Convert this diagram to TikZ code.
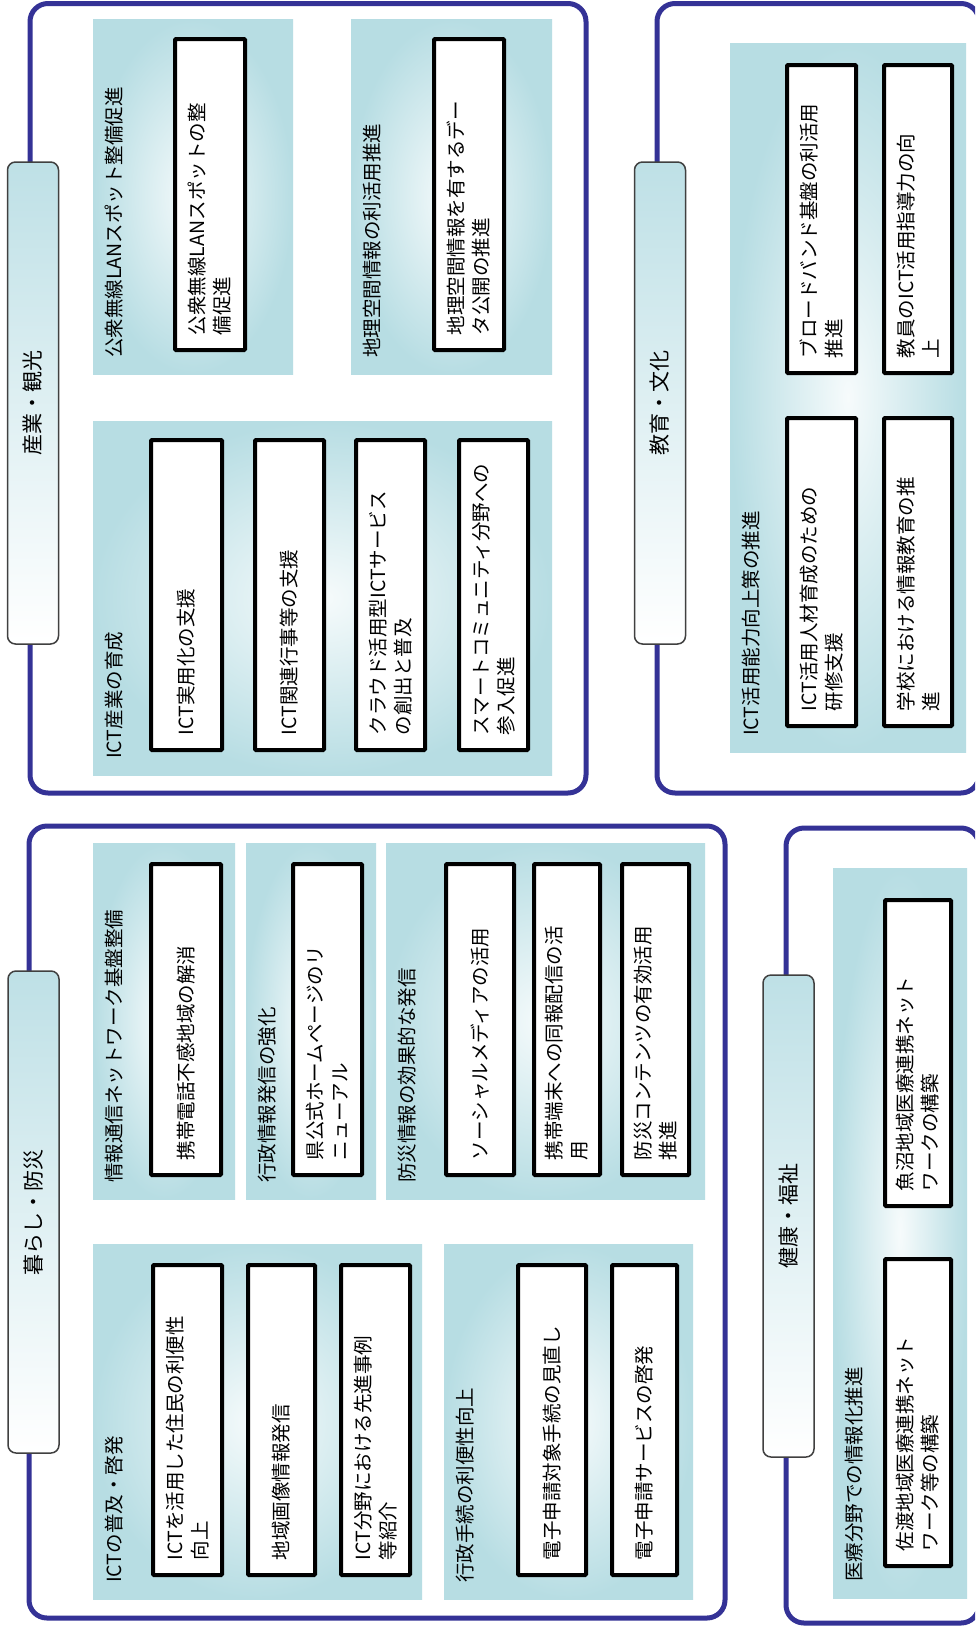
\documentclass[tikz,border=0pt]{standalone}
\usepackage{fontspec}
\setmainfont{Noto Sans CJK JP}
\definecolor{framec}{RGB}{52,50,150}
\definecolor{panelc}{RGB}{183,221,227}
\definecolor{tabc}{RGB}{190,224,230}
\newcommand\myfont{\fontsize{19.5}{25}\selectfont}
\newcommand\tabfont{\fontsize{21}{25}\selectfont}
\tikzset{
 frame/.style={draw=framec, line width=5pt, rounded corners=18pt},
 panel/.style={inner color=white!88!panelc, outer color=panelc},
 itembox/.style={draw=black, line width=4pt, fill=white, rotate=90, inner xsep=15pt, inner ysep=2pt, align=left, font=\myfont, rounded corners=1pt},
 plabel/.style={rotate=90, anchor=west, inner sep=0pt, font=\myfont},
 tabbox/.style={draw=black!75, line width=1.5pt, rounded corners=8pt, rotate=90, top color=tabc, bottom color=white, font=\tabfont, inner sep=0pt},
}
\newcommand\mkbox[6]{%
 \pgfmathsetmacro\bL{#5-#4-4}%
 \pgfmathsetmacro\bW{#3-#2-4}%
 \pgfmathsetmacro\bT{#5-#4-4-30}%
 \pgfmathsetmacro\bX{(#2+#3)/2}%
 \pgfmathsetmacro\bY{(#4+#5)/2}%
 \node[itembox, minimum width=\bL pt, minimum height=\bW pt, text width=\bT pt] (#1) at (\bX,\bY) {#6};}
\newcommand\mktab[6]{%
 \pgfmathsetmacro\bL{#5-#4}%
 \pgfmathsetmacro\bW{#3-#2}%
 \pgfmathsetmacro\bX{(#2+#3)/2}%
 \pgfmathsetmacro\bY{(#4+#5)/2}%
 \node[tabbox, minimum width=\bL pt, minimum height=\bW pt] (#1) at (\bX,\bY) {#6};}
\begin{document}
\begin{tikzpicture}[x=1pt,y=-1pt]
\useasboundingbox (0,0) rectangle (975,1630);
\fill[white] (0,0) rectangle (975,1630);
\clip (0,0) rectangle (975,1630);
% frames
\draw[frame] (30,3.5) rectangle (586,793);
\draw[frame] (657,3.5) rectangle (979,793);
\draw[frame] (29,826) rectangle (725,1618);
\draw[frame] (786,828) rectangle (979,1623);
% panels
\shade[panel] (93,19) rectangle (293,374);
\shade[panel] (351,19) rectangle (552,374);
\shade[panel] (93,421) rectangle (552,775);
\shade[panel] (730,43) rectangle (966,752);
\shade[panel] (93,843) rectangle (235,1199);
\shade[panel] (246,843) rectangle (376,1199);
\shade[panel] (386,843) rectangle (705,1199);
\shade[panel] (93,1244) rectangle (422,1599);
\shade[panel] (444,1244) rectangle (693,1599);
\shade[panel] (833,868) rectangle (967,1598);
% panel labels
\node[plabel] (l1) at (114,358) {公衆無線LANスポット整備促進};
\node[plabel] (l2) at (372,358) {地理空間情報の利活用推進};
\node[plabel] (l3) at (114,759) {ICT産業の育成};
\node[plabel] (l4) at (751,736) {ICT活用能力向上策の推進};
\node[plabel] (l5) at (114,1183) {情報通信ネットワーク基盤整備};
\node[plabel] (l6) at (267,1183) {行政情報発信の強化};
\node[plabel] (l7) at (407,1183) {防災情報の効果的な発信};
\node[plabel] (l8) at (114,1583) {ICTの普及・啓発};
\node[plabel] (l9) at (465,1583) {行政手続の利便性向上};
\node[plabel] (l10) at (854,1582) {医療分野での情報化推進};
% boxes
\mkbox{b1}{173}{247}{37}{352}{公衆無線LANスポットの整\\備促進}
\mkbox{b2}{432}{506}{37}{352}{地理空間情報を有するデー\\タ公開の推進}
\mkbox{b3}{149}{224}{438}{752}{ICT実用化の支援}
\mkbox{b4}{253}{326}{438}{752}{ICT関連行事等の支援}
\mkbox{b5}{354}{427}{438}{752}{クラウド活用型ICTサービス\\の創出と普及}
\mkbox{b6}{457}{530}{438}{752}{スマートコミュニティ分野への\\参入促進}
\mkbox{b7}{785}{858}{63}{375}{ブロードバンド基盤の利活用\\推進}
\mkbox{b8}{882}{954}{63}{375}{教員のICT活用指導力の向\\上}
\mkbox{b9}{785}{858}{416}{728}{ICT活用人材育成のための\\研修支援}
\mkbox{b10}{882}{954}{416}{728}{学校における情報教育の推\\進}
\mkbox{b11}{149}{223}{862}{1177}{携帯電話不感地域の解消}
\mkbox{b12}{291}{364}{862}{1177}{県公式ホームページのリ\\ニューアル}
\mkbox{b13}{444}{516}{862}{1177}{ソーシャルメディアの活用}
\mkbox{b14}{532}{602}{862}{1177}{携帯端末への同報配信の活\\用}
\mkbox{b15}{620}{691}{862}{1177}{防災コンテンツの有効活用\\推進}
\mkbox{b16}{151}{224}{1263}{1577}{ICTを活用した住民の利便性\\向上}
\mkbox{b17}{246}{317}{1263}{1577}{地域画像情報発信}
\mkbox{b18}{339}{412}{1263}{1577}{ICT分野における先進事例\\等紹介}
\mkbox{b19}{516}{588}{1263}{1577}{電子申請対象手続の見直し}
\mkbox{b20}{610}{679}{1263}{1577}{電子申請サービスの啓発}
\mkbox{b21}{883}{953}{898}{1208}{魚沼地域医療連携ネット\\ワークの構築}
\mkbox{b22}{883}{953}{1257}{1568}{佐渡地域医療連携ネット\\ワーク等の構築}
% tabs
\mktab{t1}{7.5}{58.5}{162}{644}{産業・観光}
\mktab{t2}{634.5}{685.5}{162}{644}{教育・文化}
\mktab{t3}{8}{59}{971}{1453}{暮らし・防災}
\mktab{t4}{763}{814}{975}{1457}{健康・福祉}
\end{tikzpicture}
\end{document}
